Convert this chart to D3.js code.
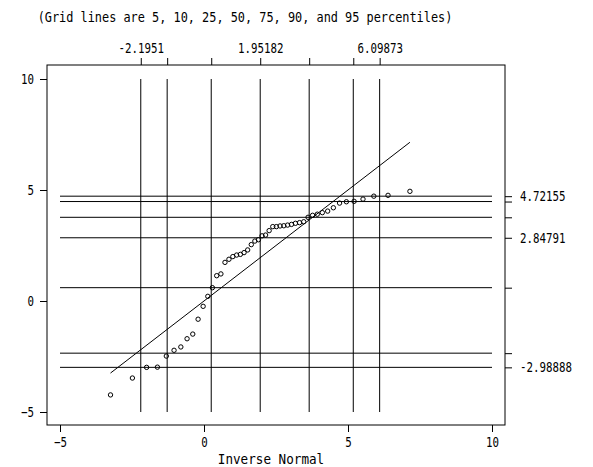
<!DOCTYPE html>
<html>
<head>
<meta charset="utf-8">
<script src="https://cdn.jsdelivr.net/npm/d3@7"></script>
<style>
  body { margin: 0; background: #fff; }
  text { font-family: "DejaVu Sans Mono", monospace; font-size: 14px; fill: #000; }
</style>
</head>
<body>
<script>
const width = 593, height = 467

// inverse normal quantiles (x) and the sorted observations (y)
const invNormal = [-3.246, -2.486, -1.993, -1.618, -1.308, -1.040, -0.804, -0.588, -0.390, -0.205,
  -0.030, 0.133, 0.291, 0.441, 0.587, 0.728, 0.866, 1.001, 1.133, 1.263,
  1.391, 1.516, 1.642, 1.766, 1.890, 2.014, 2.138, 2.262, 2.388, 2.513,
  2.641, 2.771, 2.903, 3.038, 3.176, 3.317, 3.463, 3.613, 3.771, 3.934,
  4.109, 4.294, 4.492, 4.707, 4.944, 5.211, 5.521, 5.897, 6.390, 7.150]
const observed = [-4.23, -3.47, -2.98888, -2.98, -2.48, -2.22, -2.07, -1.70, -1.49, -0.82,
  -0.24, 0.21, 0.60, 1.14, 1.22, 1.74, 1.88, 2.00, 2.07, 2.10,
  2.18, 2.30, 2.54, 2.70, 2.76, 2.935, 2.97, 3.17, 3.35, 3.35,
  3.38, 3.39, 3.42, 3.45, 3.50, 3.53, 3.57, 3.77, 3.86, 3.91,
  3.98, 4.05, 4.20, 4.41, 4.47, 4.49, 4.59, 4.72155, 4.76, 4.94]

// 5, 10, 25, 50, 75, 90, 95 percentiles
const xPct = [-2.1951, -1.279, 0.251, 1.95182, 3.652, 5.183, 6.09873]
const yPct = [-2.98888, -2.35, 0.60, 2.84791, 3.77, 4.48, 4.72155]
const xPctLabels = ["-2.1951", "", "", "1.95182", "", "", "6.09873"]
const yPctLabels = ["-2.98888", "", "", "2.84791", "", "", "4.72155"]

const xTicks = [-5, 0, 5, 10]
const yTicks = [-5, 0, 5, 10]
const title = "(Grid lines are 5, 10, 25, 50, 75, 90, and 95 percentiles)"
const xTitle = "Inverse Normal"

const box = { left: 47, right: 505, top: 65, bottom: 425 }

const svg = d3.select("body").append("svg")
  .attr("width", width)
  .attr("height", height)

const x = d3.scaleLinear().domain([-5, 10]).range([60, 492])
const y = d3.scaleLinear().domain([-5, 10]).range([412, 79])

// squeeze glyphs so they look like the narrow Stata font
function squeeze(sel, w) {
  sel.each(function() {
    const t = this.textContent
    if (t) d3.select(this).attr("textLength", t.length * w).attr("lengthAdjust", "spacingAndGlyphs")
  })
}

// grid lines
const grid = svg.append("g").attr("stroke", "#000").attr("stroke-width", 1)
grid.selectAll(".vg").data(xPct).join("line")
  .attr("x1", d => x(d)).attr("x2", d => x(d))
  .attr("y1", y(10)).attr("y2", y(-5))
grid.selectAll(".hg").data(yPct).join("line")
  .attr("x1", x(-5)).attr("x2", x(10))
  .attr("y1", d => y(d)).attr("y2", d => y(d))

// reference line y = x
const ext = d3.extent(invNormal)
svg.append("line")
  .attr("x1", x(ext[0])).attr("y1", y(ext[0]))
  .attr("x2", x(ext[1])).attr("y2", y(ext[1]))
  .attr("stroke", "#000").attr("stroke-width", 1)

// points
svg.append("g").selectAll("circle")
  .data(invNormal.map((v, i) => [v, observed[i]]))
  .join("circle")
  .attr("cx", d => x(d[0]))
  .attr("cy", d => y(d[1]))
  .attr("r", 2.2)
  .attr("fill", "none")
  .attr("stroke", "#000")
  .attr("stroke-width", 1)

// frame
svg.append("rect")
  .attr("x", box.left).attr("y", box.top)
  .attr("width", box.right - box.left).attr("height", box.bottom - box.top)
  .attr("fill", "none").attr("stroke", "#000").attr("stroke-width", 1)

function styleAxis(g) {
  g.select(".domain").remove()
  g.selectAll("line").attr("stroke", "#000")
  g.selectAll("text").attr("font-family", null).attr("font-size", null)
  g.attr("font-family", null).attr("font-size", null)
  squeeze(g.selectAll("text"), 6.5)
}

svg.append("g").attr("transform", `translate(${box.left},0)`)
  .call(d3.axisLeft(y).tickValues(yTicks).tickFormat(d3.format("d")).tickSize(7).tickPadding(6))
  .call(styleAxis)

svg.append("g").attr("transform", `translate(0,${box.bottom})`)
  .call(d3.axisBottom(x).tickValues(xTicks).tickFormat(d3.format("d")).tickSize(7).tickPadding(5))
  .call(styleAxis)

svg.append("g").attr("transform", `translate(0,${box.top})`)
  .call(d3.axisTop(x).tickValues(xPct).tickFormat((d, i) => xPctLabels[i]).tickSize(7).tickPadding(5))
  .call(styleAxis)

svg.append("g").attr("transform", `translate(${box.right},0)`)
  .call(d3.axisRight(y).tickValues(yPct).tickFormat((d, i) => yPctLabels[i]).tickSize(7).tickPadding(8))
  .call(styleAxis)

svg.append("text")
  .attr("x", 245).attr("y", 22)
  .attr("text-anchor", "middle")
  .text(title)
  .call(squeeze, 7.15)

svg.append("text")
  .attr("x", 271).attr("y", 464)
  .attr("text-anchor", "middle")
  .text(xTitle)
  .call(squeeze, 7.6)
</script>
</body>
</html>
